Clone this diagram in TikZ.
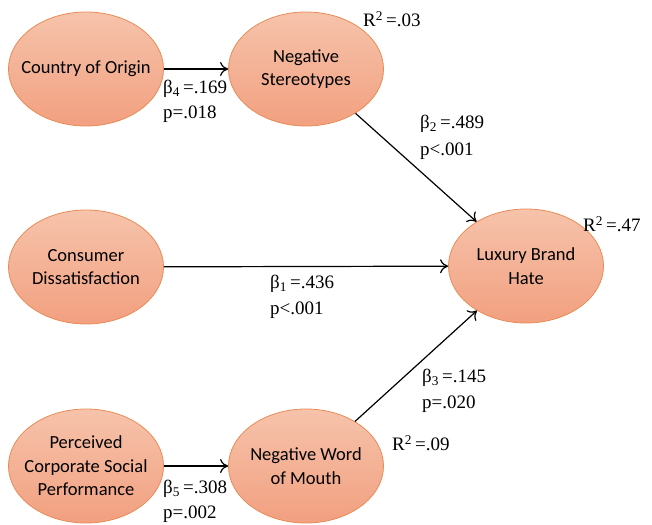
\documentclass[tikz,border=0pt]{standalone}
\usepackage{fontspec}
\setmainfont{Liberation Serif}
\newfontfamily\nodefont{Carlito}
\usetikzlibrary{shapes.geometric,arrows.meta}
\definecolor{topc}{HTML}{F6C3AB}
\definecolor{botc}{HTML}{F2A080}
\definecolor{edgec}{HTML}{E98B55}
\begin{document}
\begin{tikzpicture}[x=1pt,y=-1pt,
  latent/.style={ellipse,draw=edgec,line width=0.8pt,top color=topc,bottom color=botc,
    minimum width=155pt,minimum height=114pt,inner xsep=-30pt,inner ysep=0pt,align=center,font=\nodefont\fontsize{18.5}{23.5}\selectfont},
  path/.style={-{To[length=8pt,width=14pt]},line width=1.2pt,black},
  lab/.style={font=\fontsize{19}{22}\selectfont,anchor=west,inner sep=0pt}]
\useasboundingbox (0,0) rectangle (652,524);
\node[latent] (coo) at (86,69) {Country of Origin};
\node[latent] (ns) at (306,69) {Negative\\Stereotypes};
\node[latent] (cd) at (86,267) {Consumer\\Dissatisfaction};
\node[latent] (lbh) at (526,266) {Luxury Brand\\Hate};
\node[latent] (pcsp) at (86,466) {Perceived\\Corporate Social\\Performance};
\node[latent] (nwom) at (306,466) {Negative Word\\of Mouth};
\draw[path] (coo) -- (ns);
\draw[path] (ns) -- (lbh);
\draw[path] (cd) -- (lbh);
\draw[path] (nwom) -- (lbh);
\draw[path] (pcsp) -- (nwom);
\node[lab] (b4) at (163,89) {β\textsubscript{4}\,=.169};
\node[lab] (p4) at (163,114) {p=.018};
\node[lab] (r1) at (363,19) {R\textsuperscript{2}\,=.03};
\node[lab] (b2) at (420,124) {β\textsubscript{2}\,=.489};
\node[lab] (p2) at (420,151) {p<.001};
\node[lab] (r2) at (583,224) {R\textsuperscript{2}\,=.47};
\node[lab] (b1) at (270,284) {β\textsubscript{1}\,=.436};
\node[lab] (p1) at (270,310) {p<.001};
\node[lab] (b3) at (422,378) {β\textsubscript{3}\,=.145};
\node[lab] (p3) at (422,404) {p=.020};
\node[lab] (r3) at (392,443) {R\textsuperscript{2}\,=.09};
\node[lab] (b5) at (163,489) {β\textsubscript{5}\,=.308};
\node[lab] (p5) at (163,514) {p=.002};
\end{tikzpicture}
\end{document}
